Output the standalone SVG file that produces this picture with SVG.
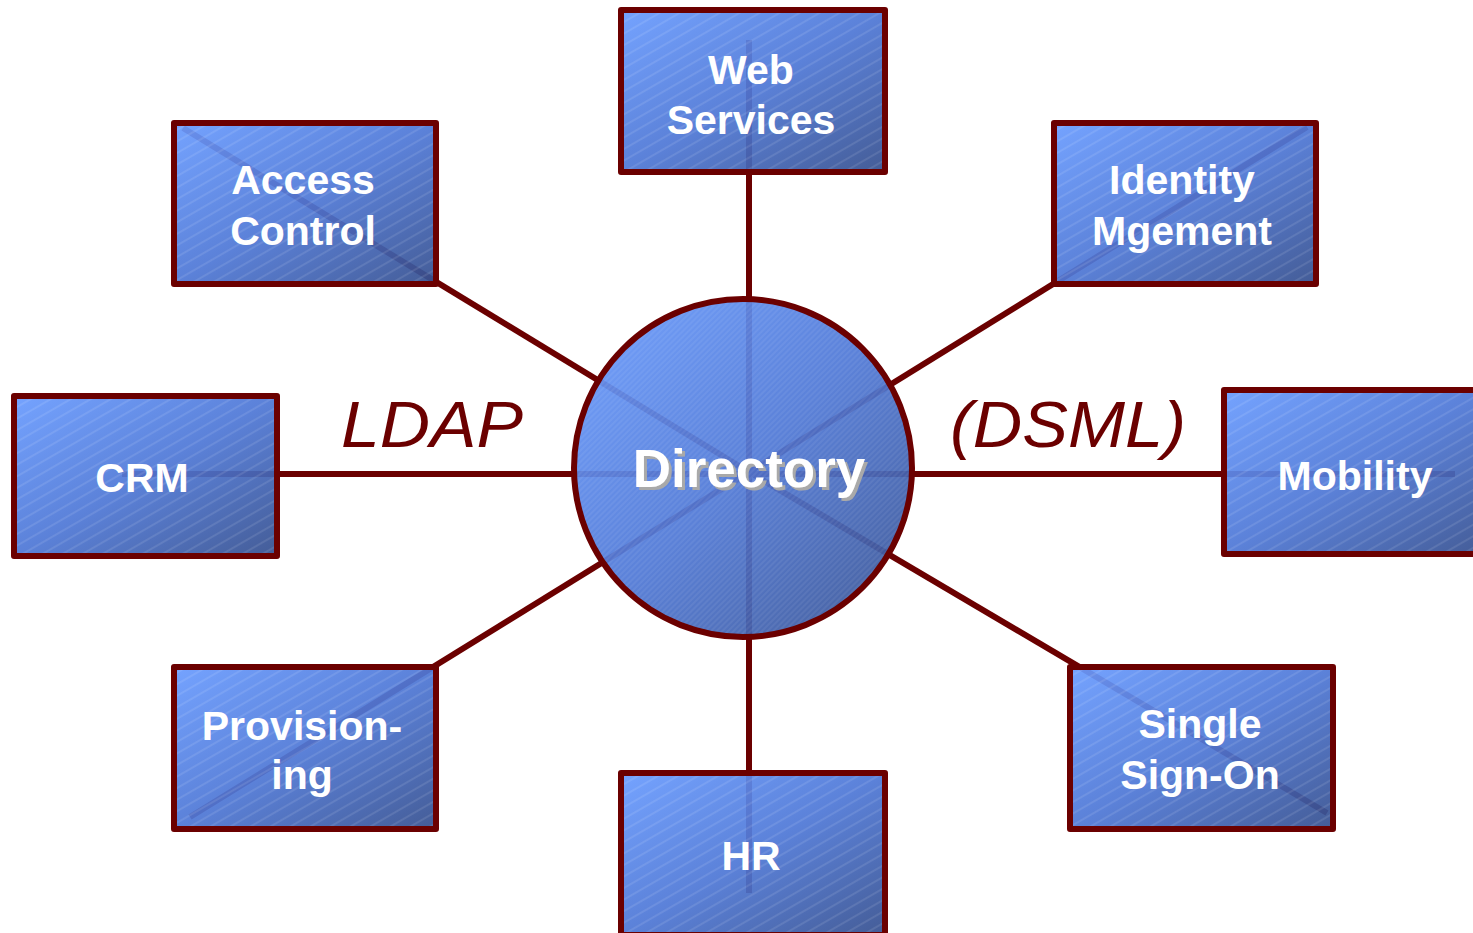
<svg xmlns="http://www.w3.org/2000/svg" width="1473" height="933" viewBox="0 0 1473 933">
<style>
  .box { stroke: #6b0000; stroke-width: 6; stroke-linejoin: round; }
  .fill { fill: url(#blueGrad); fill-opacity: 0.93; }
  .hatch { fill: url(#hatch); stroke: none; }
  .lbl { font-family: "Liberation Sans", Arial, sans-serif; font-weight: bold; font-size: 41px; fill: #ffffff; text-anchor: middle; }
  .conn { stroke: #6b0000; stroke-width: 6; fill: none; }
  .proto { font-family: "Liberation Sans", Arial, sans-serif; font-style: italic; font-size: 64px; fill: #6b0000; }
</style>
<defs>
  <linearGradient id="blueGrad" x1="0" y1="0" x2="1" y2="1">
    <stop offset="0" stop-color="#6a9cff"/>
    <stop offset="0.5" stop-color="#4f78d6"/>
    <stop offset="1" stop-color="#36508f"/>
  </linearGradient>
  <pattern id="hatch" width="10" height="10" patternUnits="userSpaceOnUse" patternTransform="rotate(-30)">
    <line x1="0" y1="1" x2="10" y2="1" stroke="#ffffff" stroke-opacity="0.12" stroke-width="1.6"/>
  </pattern>
  <pattern id="hatchFine" width="4" height="4" patternUnits="userSpaceOnUse" patternTransform="rotate(-45)">
    <line x1="0" y1="1" x2="4" y2="1" stroke="#ffffff" stroke-opacity="0.12" stroke-width="1"/>
  </pattern>
  <filter id="shadow" x="-10%" y="-20%" width="120%" height="150%">
    <feFlood flood-color="#a9a9a9"/>
    <feComposite in2="SourceAlpha" operator="in"/>
    <feOffset dx="3" dy="3" result="sh"/>
    <feMerge><feMergeNode in="sh"/><feMergeNode in="SourceGraphic"/></feMerge>
  </filter>
</defs>
<rect width="1473" height="933" fill="#ffffff"/>

<g id="connectors">
  <line class="conn" x1="749" y1="40" x2="749" y2="472"/>
  <line class="conn" x1="749" y1="472" x2="749" y2="893"/>
  <line class="conn" x1="122" y1="474" x2="749" y2="474"/>
  <line class="conn" x1="749" y1="474" x2="1455" y2="474"/>
  <line class="conn" x1="183" y1="128" x2="749" y2="472"/>
  <line class="conn" x1="749" y1="472" x2="1327" y2="813"/>
  <line class="conn" x1="1307" y1="127" x2="749" y2="472"/>
  <line class="conn" x1="749" y1="472" x2="190" y2="817"/>
</g>

<text class="proto" x="341" y="447" textLength="182" lengthAdjust="spacingAndGlyphs">LDAP</text>
<text class="proto" x="950" y="447" textLength="236" lengthAdjust="spacingAndGlyphs">(DSML)</text>

<g id="directory">
  <circle cx="743" cy="468" r="169" class="box fill"/>
  <circle cx="743" cy="468" r="166" fill="url(#hatchFine)"/>
  <text x="749" y="487" font-family="Liberation Sans, Arial, sans-serif" font-weight="bold" font-size="53" fill="#ffffff" text-anchor="middle" filter="url(#shadow)">Directory</text>
</g>

<g id="web-services">
  <rect x="621" y="10" width="264" height="162" class="box fill"/>
  <rect x="624" y="13" width="258" height="156" class="hatch"/>
  <text class="lbl" x="751" y="84">Web</text>
  <text class="lbl" x="751" y="134">Services</text>
</g>

<g id="access-control">
  <rect x="174" y="123" width="262" height="161" class="box fill"/>
  <rect x="177" y="126" width="256" height="155" class="hatch"/>
  <text class="lbl" x="303" y="194">Access</text>
  <text class="lbl" x="303" y="245">Control</text>
</g>

<g id="identity-mgement">
  <rect x="1054" y="123" width="262" height="161" class="box fill"/>
  <rect x="1057" y="126" width="256" height="155" class="hatch"/>
  <text class="lbl" x="1182" y="194">Identity</text>
  <text class="lbl" x="1182" y="245">Mgement</text>
</g>

<g id="crm">
  <rect x="14" y="396" width="263" height="160" class="box fill"/>
  <rect x="17" y="399" width="257" height="154" class="hatch"/>
  <text class="lbl" x="142" y="492">CRM</text>
</g>

<g id="mobility">
  <rect x="1224" y="390" width="262" height="164" class="box fill"/>
  <rect x="1227" y="393" width="256" height="158" class="hatch"/>
  <text class="lbl" x="1355" y="490">Mobility</text>
</g>

<g id="provisioning">
  <rect x="174" y="667" width="262" height="162" class="box fill"/>
  <rect x="177" y="670" width="256" height="156" class="hatch"/>
  <text class="lbl" x="302" y="740">Provision-</text>
  <text class="lbl" x="302" y="789">ing</text>
</g>

<g id="hr">
  <rect x="621" y="773" width="264" height="162" class="box fill"/>
  <rect x="624" y="776" width="258" height="156" class="hatch"/>
  <text class="lbl" x="751" y="870">HR</text>
</g>

<g id="single-sign-on">
  <rect x="1070" y="667" width="263" height="162" class="box fill"/>
  <rect x="1073" y="670" width="257" height="156" class="hatch"/>
  <text class="lbl" x="1200" y="738">Single</text>
  <text class="lbl" x="1200" y="789">Sign-On</text>
</g>
</svg>
